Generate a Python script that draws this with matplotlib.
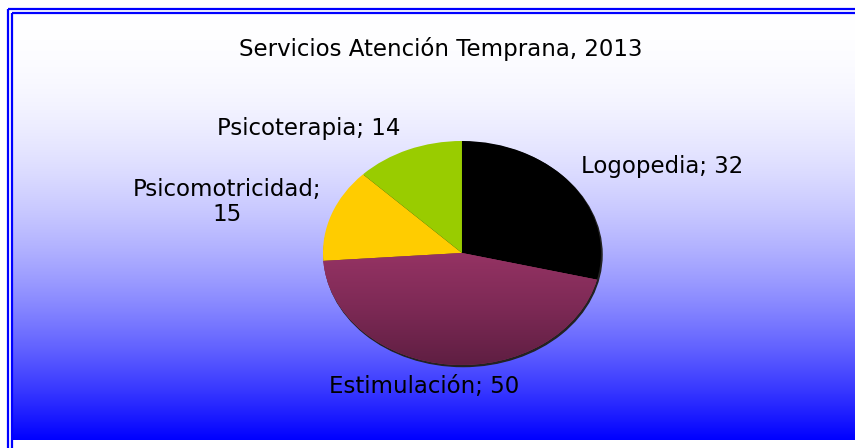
import matplotlib
matplotlib.use("Agg")
import matplotlib.pyplot as plt
import numpy as np
from matplotlib.patches import Ellipse
from matplotlib.colors import LinearSegmentedColormap

# chart data
categories = ["Logopedia", "Estimulación", "Psicomotricidad", "Psicoterapia"]
values = [32, 50, 15, 14]
colors = ["#000000", "#993366", "#FFCC00", "#99CC00"]
title = "Servicios Atención Temprana, 2013"

# label positions in pixels (x, y) of the 855x448 picture
label_pos = [(662, 166), (424, 386), (227, 202), (309, 128)]

plt.rcParams['font.family'] = ['DejaVu Sans']
fig = plt.figure(figsize=(8.55, 4.48), dpi=100)
fig.patch.set_facecolor("white")

# background: white -> blue gradient and double blue border
bg = fig.add_axes([0, 0, 1, 1])
bg.set_xlim(0, 855)
bg.set_ylim(448, 0)
bg.axis("off")
t = np.linspace(0, 1, 400)
w = 1 - t ** 2
grad = np.dstack([w, w, np.ones_like(w)]).reshape(400, 1, 3)
bg.imshow(grad, extent=[13, 855, 440, 13], origin="upper", aspect="auto",
          interpolation="bilinear")
bg.plot([8, 8], [448, 9], color="#0000FF", lw=1.6, solid_capstyle="butt")
bg.plot([8, 855], [9, 9], color="#0000FF", lw=1.6, solid_capstyle="butt")
bg.plot([12, 12], [448, 13], color="#0000FF", lw=1.6, solid_capstyle="butt")
bg.plot([12, 855], [13, 13], color="#0000FF", lw=1.6, solid_capstyle="butt")
bg.set_xlim(0, 855)
bg.set_ylim(448, 0)

bg.text(441, 49, title, ha="center", va="center", fontsize=16.5, color="black")

# pie (stretched horizontally like the original)
ax = fig.add_axes([0.3371, 0.1228, 0.4064, 0.625])
ax.add_patch(Ellipse((0.008, -0.014), 2, 2, color="#222222", zorder=0))
wedges, _ = ax.pie(values, colors=colors, startangle=90, counterclock=False,
                   wedgeprops=dict(linewidth=0))
for wd in wedges:
    wd.set_zorder(1)

# shaded fill for Estimulación
est = wedges[1]
cmap = LinearSegmentedColormap.from_list("est", ["#5C1D40", "#7E2A56", "#9B3567"])
g = np.linspace(0, 1, 256).reshape(256, 1)
img = ax.imshow(g, cmap=cmap, extent=[-1.05, 1.05, -1.05, 0.12], origin="lower",
                aspect="auto", zorder=1.5)
img.set_clip_path(est)

ax.set_xlim(-1.25, 1.25)
ax.set_ylim(-1.25, 1.25)
ax.set_aspect("auto")
ax.axis("off")

# data labels
for cat, val, (x, y) in zip(categories, values, label_pos):
    txt = f"{cat}; {val}"
    if cat == "Psicomotricidad":
        txt = f"{cat};\n{val}"
    bg.text(x, y, txt, ha="center", va="center", fontsize=16.5, color="black",
            linespacing=1.1)

fig.savefig("out.png", dpi=100)
